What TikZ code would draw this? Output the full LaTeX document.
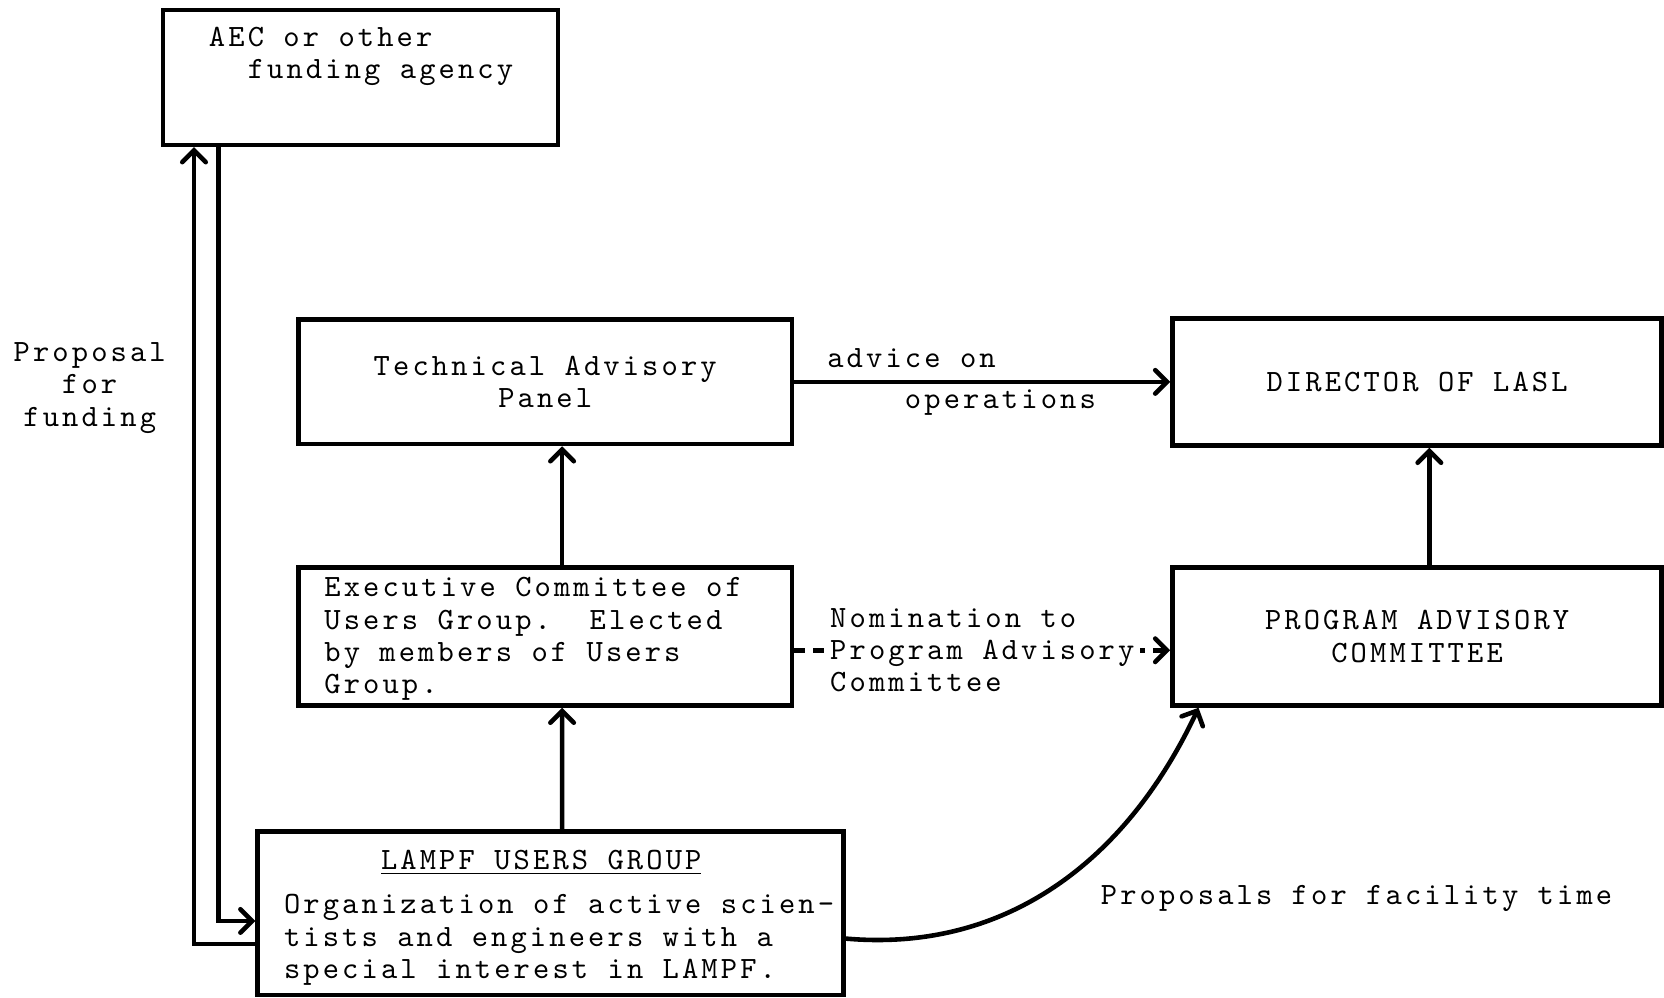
\documentclass[tikz,border=0pt]{standalone}
\usepackage{fontspec}
\setmonofont{lmmono10-regular.otf}[LetterSpace=10.1]
\usetikzlibrary{arrows}

\begin{document}
\frenchspacing
\begin{tikzpicture}[->,>=angle 90,line width=1.7pt,
  every node/.style={font=\ttfamily\fontsize{11.5}{12}\selectfont},
  box/.style={rectangle,draw}]

  \useasboundingbox (0,0) rectangle (21.70,13.01);

  \node[box, minimum width=5.15cm, minimum height=1.76cm] (aec) at (4.70,12.00) {};
  \node[anchor=north west, align=left, inner sep=0pt] (aectext) at ([shift={(0.60,-0.22)}]aec.north west) {AEC or other\\\hspace*{14.4pt}funding agency};
  \node[box, minimum width=6.44cm, minimum height=1.62cm, align=center] (tap) at (7.11,8.03) {Technical Advisory\\Panel};
  \node[box, minimum width=6.38cm, minimum height=1.66cm] (director) at (18.48,8.03) {DIRECTOR OF LASL};
  \node[box, minimum width=6.44cm, minimum height=1.80cm] (exec) at (7.11,4.71) {};
  \node[anchor=north west, align=left, inner sep=0pt] (exectext) at ([shift={(0.34,-0.13)}]exec.north west) {Executive Committee of\\Users Group.\ \ Elected\\by members of Users\\Group.};
  \node[box, minimum width=6.38cm, minimum height=1.80cm, align=center] (pac) at (18.48,4.71) {PROGRAM ADVISORY\\COMMITTEE};
  \node[box, minimum width=7.64cm, minimum height=2.13cm] (lampf) at (7.18,1.10) {};
  \node[anchor=north west, align=left, inner sep=0pt] (lampftext) at ([shift={(0.344,-0.24)}]lampf.north west) {\hspace*{36pt}\underline{LAMPF USERS GROUP}\\[4.5pt]Organization of active scien-\\tists and engineers with a\\special interest in LAMPF.};

  \node[align=center] (fundlabel) at (1.17,7.95) {Proposal\\for\\funding};
  \node (timelabel) at (17.69,1.29) {Proposals for facility time};

  \draw ([yshift=-0.40cm]lampf.west) -| ([xshift=-2.17cm]aec.south);
  \draw ([xshift=-1.85cm]aec.south) |- ([yshift=-0.10cm]lampf.west);
  \draw (tap) -- node[align=left, xshift=-0.27cm] {advice on\\[3pt]\hspace*{28.8pt}operations} (director);
  \draw ([xshift=0.22cm]exec.north) -- ([xshift=0.22cm]tap.south);
  \draw ([xshift=0.15cm]lampf.north) -- ([xshift=0.22cm]exec.south);
  \draw[dash pattern=on 4pt off 3pt] ([yshift=-0.18cm]exec.east) -- node[fill=white, align=left, inner xsep=2pt] {Nomination to\\Program Advisory\\Committee} ([yshift=-0.18cm]pac.west);
  \draw ([xshift=0.16cm]pac.north) -- ([xshift=0.16cm]director.south);
  \draw ([yshift=-0.33cm]lampf.east) to[out=-5,in=245] ([xshift=-2.85cm]pac.south);
\end{tikzpicture}
\end{document}
